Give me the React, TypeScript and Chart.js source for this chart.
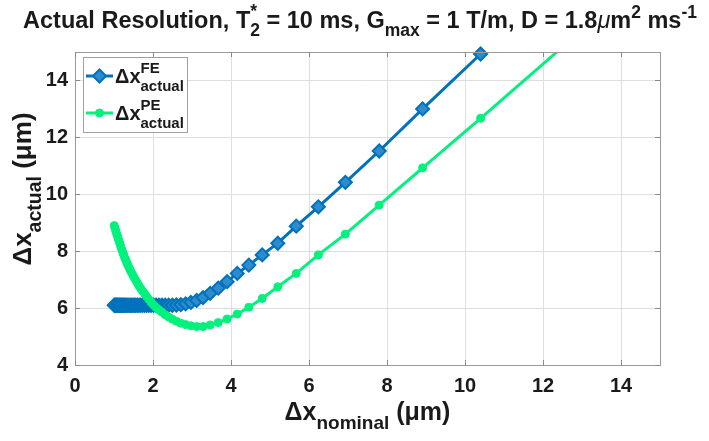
import { useEffect, useRef } from 'react';
import { Chart, registerables } from 'chart.js';
Chart.register(...registerables);

// Nominal resolution (µm) – x positions of the sampled points
const xNominal = [
  1.006, 1.023, 1.040, 1.058, 1.076, 1.095, 1.114, 1.135, 1.156, 1.177,
  1.200, 1.224, 1.248, 1.273, 1.300, 1.328, 1.357, 1.387, 1.418, 1.451,
  1.486, 1.522, 1.560, 1.600, 1.642, 1.686, 1.733, 1.783, 1.835, 1.891,
  1.950, 2.013, 2.080, 2.152, 2.229, 2.311, 2.400, 2.496, 2.600, 2.713,
  2.836, 2.971, 3.120, 3.284, 3.467, 3.671, 3.900, 4.160, 4.457, 4.800,
  5.200, 5.673, 6.240, 6.933, 7.800, 8.914, 10.400, 12.480,
];

// Δx actual, frequency encoding (FE)
const feActual = [
  6.1, 6.1, 6.1, 6.1, 6.1, 6.1, 6.1, 6.1, 6.1, 6.1,
  6.1, 6.1, 6.1, 6.1, 6.1, 6.1, 6.1, 6.1, 6.1, 6.1,
  6.1, 6.1, 6.1, 6.1, 6.1, 6.1, 6.1, 6.1, 6.1, 6.1,
  6.1, 6.1, 6.1, 6.1, 6.1, 6.1, 6.1, 6.1, 6.11, 6.12,
  6.15, 6.20, 6.27, 6.37, 6.52, 6.70, 6.93, 7.22, 7.51, 7.87,
  8.28, 8.88, 9.56, 10.42, 11.52, 13.00, 14.93, null,
];

// Δx actual, phase encoding (PE)
const peActual = [
  8.90, 8.82, 8.74, 8.66, 8.58, 8.50, 8.42, 8.33, 8.24, 8.15,
  8.05, 7.96, 7.87, 7.78, 7.69, 7.60, 7.51, 7.42, 7.33, 7.24,
  7.15, 7.06, 6.97, 6.88, 6.78, 6.69, 6.60, 6.51, 6.41, 6.31,
  6.21, 6.11, 6.02, 5.94, 5.86, 5.77, 5.69, 5.61, 5.54, 5.47,
  5.42, 5.38, 5.35, 5.35, 5.41, 5.49, 5.62, 5.79, 6.03, 6.34,
  6.75, 7.22, 7.87, 8.60, 9.62, 10.93, 12.67, 15.15,
];

const xTicks = [0, 2, 4, 6, 8, 10, 12, 14];
const yTicks = [4, 6, 8, 10, 12, 14];
const xRange = [0, 15];
const yRange = [4, 15];

const BLUE = '#0072BD';
const BLUE_FACE = '#2f8ccc';
const GREEN = 'rgb(0,242,125)';
const FONT = '"Liberation Sans", Arial, Helvetica, sans-serif';
const TEXT = '#1a1a1a';

type Seg = {
  t?: string; s: number; dy?: number; it?: boolean; nb?: boolean;
  sup?: string; sub?: string; supDy?: number; subDy?: number;
};

function fontOf(g: Seg) {
  return `${g.it ? 'italic ' : ''}${g.nb ? 'normal' : 'bold'} ${g.s}px ${FONT}`;
}
function segW(ctx: CanvasRenderingContext2D, g: Seg) {
  ctx.font = fontOf(g);
  if (g.t !== undefined) return ctx.measureText(g.t).width;
  return Math.max(ctx.measureText(g.sup || '').width, ctx.measureText(g.sub || '').width);
}
function drawRich(ctx: CanvasRenderingContext2D, segs: Seg[], x: number, y: number, align: 'left' | 'center') {
  const total = segs.reduce((a, g) => a + segW(ctx, g), 0);
  let cx = align === 'center' ? x - total / 2 : x;
  ctx.textBaseline = 'alphabetic';
  ctx.textAlign = 'left';
  ctx.fillStyle = TEXT;
  for (const g of segs) {
    const w = segW(ctx, g);
    if (g.t !== undefined) ctx.fillText(g.t, cx, y + (g.dy || 0));
    else {
      if (g.sup) ctx.fillText(g.sup, cx, y + (g.supDy || 0));
      if (g.sub) ctx.fillText(g.sub, cx, y + (g.subDy || 0));
    }
    cx += w;
  }
}

const titleSegs: Seg[] = [
  { t: 'Actual Resolution, T', s: 23.5 },
  { sup: '*', sub: '2', s: 17.5, supDy: -11, subDy: 8 },
  { t: ' = 10 ms, G', s: 23.5 },
  { t: 'max', s: 17.5, dy: 8 },
  { t: ' = 1 T/m, D = 1.8', s: 23.5 },
  { t: 'μ', s: 23.5, it: true, nb: true },
  { t: 'm', s: 23.5 },
  { t: '2', s: 17.5, dy: -10 },
  { t: ' ms', s: 23.5 },
  { t: '-1', s: 17.5, dy: -10 },
];
const yLabelSegs: Seg[] = [
  { t: 'Δx', s: 26 },
  { t: 'actual', s: 19.5, dy: 10 },
  { t: ' (μm)', s: 26 },
];
const xLabelSegs: Seg[] = [
  { t: 'Δx', s: 25 },
  { t: 'nominal', s: 19, dy: 9 },
  { t: ' (μm)', s: 25 },
];

const decorPlugin = {
  id: 'decor',
  afterDatasetsDraw(chart: any) {
    const ctx: CanvasRenderingContext2D = chart.ctx;
    const { left, right, top, bottom } = chart.chartArea;
    const xs = chart.scales.x;
    const ys = chart.scales.y;
    ctx.save();
    // axes box
    ctx.strokeStyle = '#9a9a9a';
    ctx.lineWidth = 1;
    ctx.strokeRect(Math.round(left) + 0.5, Math.round(top) + 0.5, Math.round(right - left), Math.round(bottom - top));
    // inward tick marks
    ctx.strokeStyle = '#8a8a8a';
    ctx.beginPath();
    for (const v of xTicks) {
      const px = Math.round(xs.getPixelForValue(v)) + 0.5;
      ctx.moveTo(px, bottom); ctx.lineTo(px, bottom - 5);
      ctx.moveTo(px, top); ctx.lineTo(px, top + 5);
    }
    for (const v of yTicks) {
      const py = Math.round(ys.getPixelForValue(v)) + 0.5;
      ctx.moveTo(left, py); ctx.lineTo(left + 5, py);
      ctx.moveTo(right, py); ctx.lineTo(right - 5, py);
    }
    ctx.stroke();

    // legend
    const lx = 83, ly = 57, lw = 104, lh = 75;
    ctx.fillStyle = '#ffffff';
    ctx.fillRect(lx, ly, lw, lh);
    ctx.strokeStyle = '#a0a0a0';
    ctx.strokeRect(lx + 0.5, ly + 0.5, lw, lh);
    const entries = [
      { ds: chart.data.datasets[0], y: 76, sup: 'FE', shape: 'diamond' },
      { ds: chart.data.datasets[1], y: 113, sup: 'PE', shape: 'circle' },
    ];
    for (const e of entries) {
      ctx.strokeStyle = e.ds.borderColor;
      ctx.lineWidth = 3;
      ctx.beginPath();
      ctx.moveTo(86, e.y); ctx.lineTo(113, e.y);
      ctx.stroke();
      ctx.fillStyle = e.ds.pointBackgroundColor;
      ctx.strokeStyle = e.ds.pointBorderColor;
      ctx.lineWidth = e.ds.pointBorderWidth;
      ctx.beginPath();
      const r = e.ds.pointRadius;
      if (e.shape === 'diamond') {
        ctx.moveTo(99.5 - r, e.y); ctx.lineTo(99.5, e.y - r); ctx.lineTo(99.5 + r, e.y); ctx.lineTo(99.5, e.y + r);
        ctx.closePath();
      } else {
        ctx.arc(99.5, e.y, r, 0, Math.PI * 2);
      }
      ctx.fill();
      ctx.stroke();
      drawRich(ctx, [
        { t: 'Δx', s: 20 },
        { sup: e.sup, sub: 'actual', s: 15, supDy: -10, subDy: 8 },
      ], 115, e.y + 7, 'left');
    }
    ctx.restore();
  },
  afterDraw(chart: any) {
    const ctx: CanvasRenderingContext2D = chart.ctx;
    const { left, right } = chart.chartArea;
    ctx.save();
    drawRich(ctx, titleSegs, 360, 28, 'center');
    drawRich(ctx, xLabelSegs, (left + right) / 2, 420, 'center');
    ctx.translate(31, 189);
    ctx.rotate(-Math.PI / 2);
    drawRich(ctx, yLabelSegs, 0, 0, 'center');
    ctx.restore();
  },
};

export default function App() {
  const ref = useRef<HTMLCanvasElement | null>(null);
  useEffect(() => {
    document.body.style.margin = '0';
    if (!ref.current) return;
    const chart = new Chart(ref.current, {
      type: 'line',
      data: {
        datasets: [
          {
            label: 'FE',
            data: xNominal.map((x, i) => ({ x, y: feActual[i] })) as any,
            borderColor: BLUE,
            borderWidth: 3,
            pointStyle: 'rectRot',
            pointRadius: 6.5,
            pointHoverRadius: 6.5,
            pointBackgroundColor: BLUE_FACE,
            pointBorderColor: BLUE,
            pointBorderWidth: 2,
            clip: 12,
            order: 1,
          } as any,
          {
            label: 'PE',
            data: xNominal.map((x, i) => ({ x, y: peActual[i] })) as any,
            borderColor: GREEN,
            borderWidth: 3,
            pointStyle: 'circle',
            pointRadius: 4,
            pointHoverRadius: 4,
            pointBackgroundColor: GREEN,
            pointBorderColor: GREEN,
            pointBorderWidth: 1,
            clip: 0,
            order: 0,
          } as any,
        ],
      },
      options: {
        animation: false,
        responsive: true,
        maintainAspectRatio: false,
        layout: { padding: { left: 0, right: 49, top: 52, bottom: 46 } },
        plugins: { legend: { display: false }, title: { display: false }, tooltip: { enabled: false } },
        scales: {
          x: {
            type: 'linear',
            min: xRange[0],
            max: xRange[1],
            afterBuildTicks: (s: any) => { s.ticks = xTicks.map((v) => ({ value: v })); },
            afterFit: (s: any) => { s.height = 30; },
            grid: { color: '#dedede', lineWidth: 1, drawTicks: false },
            border: { display: false },
            ticks: { padding: 9, color: TEXT, font: { family: FONT, size: 20, weight: 'bold' }, maxRotation: 0, autoSkip: false },
          },
          y: {
            type: 'linear',
            min: yRange[0],
            max: yRange[1],
            afterBuildTicks: (s: any) => { s.ticks = yTicks.map((v) => ({ value: v })); },
            afterFit: (s: any) => { s.width = 75; },
            grid: { color: '#dedede', lineWidth: 1, drawTicks: false },
            border: { display: false },
            ticks: { padding: 7, color: TEXT, font: { family: FONT, size: 20, weight: 'bold' }, autoSkip: false },
          },
        },
      } as any,
      plugins: [decorPlugin],
    });
    return () => chart.destroy();
  }, []);
  return (
    <div style={{ position: 'absolute', left: 0, top: 0, width: 709, height: 441, background: '#fff' }}>
      <canvas ref={ref} />
    </div>
  );
}
